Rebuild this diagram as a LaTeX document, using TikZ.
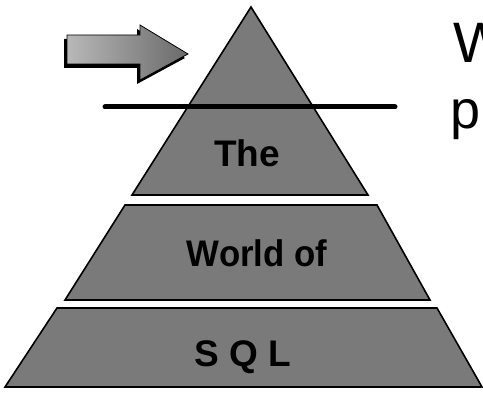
\documentclass[tikz,border=0pt]{standalone}
\usepackage{fontspec}
\setmainfont{Liberation Sans}
\usetikzlibrary{shapes.geometric,arrows.meta,positioning,calc}
\definecolor{Ink}{HTML}{000000}
\definecolor{Dither}{HTML}{7A7A7A}
\definecolor{ArrowLt}{HTML}{B8B8B8}
\definecolor{ArrowDk}{HTML}{6A6A6A}

\tikzset{
  pyrpart/.style={fill=Dither,draw=Ink,line width=1.6pt,line join=miter},
  pyrlabel/.style={font=\fontsize{37}{42}\selectfont\bfseries,anchor=base,inner sep=0pt},
  sidetext/.style={font=\fontsize{57}{62}\selectfont,anchor=base west,inner sep=0pt}
}

\begin{document}
\begin{tikzpicture}[x=1pt,y=-1pt]
  \useasboundingbox (0,0) rectangle (483,398);
  \clip (0,0) rectangle (483,398);
  % pyramid in three parts
  \filldraw[pyrpart] (251,7) -- (368,195) -- (132,195) -- cycle;
  \filldraw[pyrpart] (125,205) -- (377,205) -- (430,300) -- (65,300) -- cycle;
  \filldraw[pyrpart] (57,308) -- (437,308) -- (482,387) -- (5,387) -- cycle;
  \node[pyrlabel] (the) at (247,167) {The};
  \node[pyrlabel,xscale=0.94] (world) at (257,267) {World of};
  \node[pyrlabel] (sql) at (243,367) {S Q L};
  % the cut across the top
  \coordinate (cutl) at (105,107);
  \coordinate (cutr) at (395,107);
  \draw[Ink,line width=5pt,line cap=round] (cutl) -- (cutr);
  % block arrow with its shadow
  \fill[Ink] (64,39) -- (137,39) -- (137,29) -- (185,58) -- (137,84) -- (137,68) -- (64,68) -- cycle;
  \shade[left color=ArrowLt,right color=ArrowDk,draw=Ink,line width=0.8pt]
    (67,35) -- (140,35) -- (140,25) -- (188,54) -- (140,80) -- (140,64) -- (67,64) -- cycle;
  % words cut off at the edge
  \node[sidetext] (w) at (453,63) {W};
  \node[sidetext,font=\fontsize{54}{60}\selectfont] (p) at (450,129) {p};
\end{tikzpicture}
\end{document}
